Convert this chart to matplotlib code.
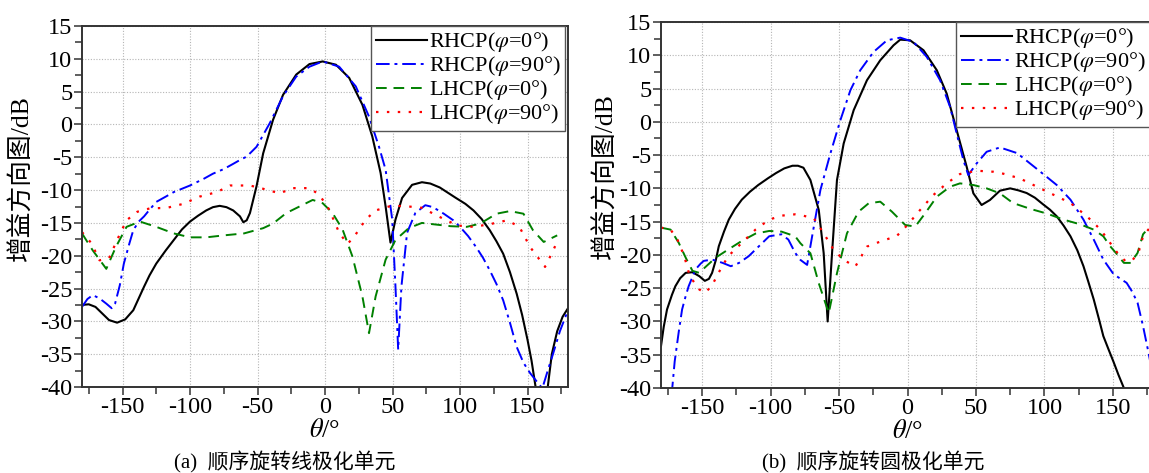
import numpy as np
import matplotlib
matplotlib.use("Agg")
import matplotlib.pyplot as plt
from matplotlib.ticker import MultipleLocator

"fonts"
plt.rcParams['font.family'] = ['Liberation Serif', 'Noto Sans CJK SC']
plt.rcParams['mathtext.fontset'] = 'stix'
plt.rcParams['axes.unicode_minus'] = False

"(a) sequential rotation, linear polarized element"
a_rhcp0_x = [-180, -175, -170, -165, -160, -154, -148, -142, -138, -134, -130, -125, -118, -112,
             -106, -100, -94, -88, -83, -78, -73, -68, -63, -60.5, -58, -55.6, -50.7, -45.8,
             -38.5, -31.1, -21.3, -11.5, -1.7, 8.1, 17.9, 27.7, 35, 41.2, 44.9, 48.5, 52.2,
             57.1, 64.5, 71.8, 78, 85, 91, 97, 104, 110, 116, 122, 127, 132, 137, 142,
             146, 150, 153, 156, 160, 165, 168, 172, 176, 180]
a_rhcp0_y = [-27.5, -27.4, -27.8, -28.8, -29.8, -30.2, -29.7, -28.3, -26.5, -24.7, -23.0, -21.2, -19.2, -17.6,
             -16.0, -14.8, -13.9, -13.1, -12.6, -12.4, -12.6, -13.1, -14.0, -14.9, -14.6, -13.5, -9.4, -4.4,
             0.7, 4.5, 7.6, 9.2, 9.6, 9.1, 7.1, 3.0, -1.8, -7.4, -12.5, -18.0, -14.5,
             -11.2, -9.2, -8.8, -9.0, -9.6, -10.4, -11.2, -12.1, -13.1, -14.4, -16.1, -17.8, -19.7, -22.5, -25.8,
             -29.0, -32.8, -36.0, -40.0, -45.0, -40.0, -35.0, -31.5, -29.3, -28.0]

a_rhcp90_x = [-180, -176, -172, -167, -162, -158, -155.5, -152, -149, -145, -142, -138, -134, -130,
              -125, -118, -112, -100, -90, -83, -75, -68, -62, -58, -50.7, -40.9, -31.1, -21.3,
              -11.5, -1.7, 10.5, 22.8, 32.6, 40, 44.9, 49.8, 52.2, 54.2, 56.6, 60.8, 66.9, 74.3,
              80, 88, 95, 100, 106, 112, 117, 122, 127, 132, 137, 142, 147, 152, 157, 161,
              165, 169, 174, 180]
a_rhcp90_y = [-27.8, -26.6, -26.0, -26.5, -27.3, -28.0, -27.3, -24.5, -21.2, -18.2, -16.1, -14.8, -14.0, -13.0,
              -11.8, -11.0, -10.3, -9.3, -8.3, -7.5, -6.8, -6.0, -5.3, -4.9, -3.4, 0.2, 4.3, 7.3,
              8.8, 9.6, 8.8, 5.8, 1.2, -3.4, -6.9, -14.5, -24.7, -34.3, -24.7, -16.5, -13.5, -12.3,
              -12.6, -13.6, -14.6, -15.6, -17.0, -18.7, -20.3, -22.2, -24.3, -26.8, -30.2, -33.9, -36.3, -37.9, -39.2, -40.2,
              -37.5, -34.9, -31.5, -28.3]

a_lhcp0_x = [-180, -172, -162, -155, -147, -137, -125, -112, -100, -88, -75, -60, -45.8,
             -38.5, -28.7, -9.1, -1.7, 5.6, 13, 20.3, 27.7, 32.6, 37.5, 44.9, 52.2, 62, 71.8,
             80, 93, 105, 115, 127, 137, 147, 154, 162, 172]
a_lhcp0_y = [-16.6, -19.2, -22.0, -18.7, -15.6, -14.8, -15.6, -16.6, -17.2, -17.2, -16.9, -16.6, -15.8,
             -15.1, -13.5, -11.5, -12.0, -13.5, -16.0, -20.1, -26.2, -31.8, -26.2, -20.6, -17.6, -15.8, -15.0,
             -15.2, -15.5, -15.6, -15.1, -13.6, -13.2, -13.6, -16.1, -17.9, -16.9]

a_lhcp90_x = [-180, -173, -167, -160, -154, -147, -139, -130, -117, -105, -93, -80, -70.3,
              -55.6, -45.8, -33.6, -23.8, -11.5, -4.2, 3.2, 10.5, 16.7, 21.6, 30.1, 37.5, 47.3, 57.1, 71.8,
              85, 98, 110, 122, 135, 144, 152, 163, 169, 173]
a_lhcp90_y = [-16.4, -18.1, -20.7, -20.4, -17.6, -14.6, -13.3, -12.8, -12.7, -12.1, -11.0, -10.3, -9.3,
              -9.3, -9.8, -10.5, -9.7, -9.7, -10.7, -13.0, -16.5, -18.2, -17.1, -14.5, -13.1, -12.5, -12.4, -12.7,
              -14.1, -15.4, -15.6, -15.2, -14.6, -15.6, -18.7, -21.7, -19.2, -17.4]

"(b) sequential rotation, circular polarized element"
b_rhcp0_x = [-180, -178, -175.6, -172, -169.5, -166, -162, -157, -152, -148, -145, -142.7, -140, -137.8,
             -134, -130.5, -126, -121, -115, -109, -102, -96, -90, -84, -80, -76, -70.9, -64.8,
             -61.2, -58.3, -55.1, -51.5, -46.6, -39.3, -29.6, -19.9, -10.2, -5.3, 1.9, 11.7, 21.4,
             28.6, 35.9, 43.2, 48.1, 54.1, 60.2, 67.5, 75, 81, 87, 93, 99, 104, 109, 114, 119,
             124, 128.5, 132, 136, 140, 143, 147, 150.5, 154, 158, 162]
b_rhcp0_y = [-33.7, -30.8, -28.2, -26.0, -24.7, -23.5, -22.7, -22.6, -23.2, -23.9, -23.6, -22.7, -20.8, -18.7,
             -16.5, -14.7, -13.1, -11.7, -10.5, -9.5, -8.5, -7.7, -7.0, -6.6, -6.6, -6.9, -8.75, -13.25,
             -19.75, -30.0, -19.75, -8.75, -3.25, 1.75, 6.25, 9.25, 11.5, 12.35, 12.25, 10.75, 7.75,
             4.25, -1.25, -6.75, -10.75, -12.5, -11.75, -10.35, -10.0, -10.3, -10.7, -11.4, -12.4, -13.2, -14.2, -15.6, -17.2,
             -19.3, -21.7, -24.0, -26.7, -29.8, -32.2, -34.3, -36.1, -38.0, -40.0, -44.0]

b_rhcp90_x = [-175, -172, -170, -167, -164.6, -162, -159.8, -157, -154.9, -151, -148.8, -142.7, -138, -135,
              -129, -123, -116, -108.5, -101, -92, -87, -82, -78.2, -73.3, -68.4, -63.6, -56.3, -49,
              -41.7, -34.5, -24.8, -15, -5.3, 4.4, 14.1, 23.8, 31.1, 35.9, 40.8, 44.4, 50.5, 57.8,
              67.5, 80, 94, 109, 119, 128.5, 136, 143, 150.5, 160, 164, 168, 172, 176, 180]
b_rhcp90_y = [-45.0, -40.5, -36.0, -31.5, -28.2, -26.2, -24.7, -23.3, -22.2, -21.3, -20.9, -20.7, -21.0, -21.2,
              -21.7, -21.2, -20.2, -18.7, -17.2, -16.9, -17.7, -19.7, -20.75, -21.5, -15.75, -10.25, -4.75, 0.25,
              4.75, 7.75, 10.5, 12.25, 12.65, 12.0, 9.75, 6.25, 2.25, -1.75, -5.75, -8.0, -6.25, -4.5,
              -3.85, -4.7, -7.0, -9.5, -11.7, -14.7, -17.7, -20.7, -22.9, -24.2, -25.5, -27.2, -30.7, -34.7, -39.0]

b_lhcp0_x = [-180, -173, -167, -162, -157, -152, -148, -140, -131, -121, -111, -101, -92,
             -82, -78.2, -70.9, -64.8, -57.5, -51.5, -44.2, -35.7, -28.4, -19.9, -11.4, -1.7, 5.6,
             12.9, 21.4, 31.1, 38.3, 48.1, 57.8, 67.5, 77, 90, 102, 114, 126, 136, 143, 148, 153,
             158, 163, 168, 172, 177, 180]
b_lhcp0_y = [-15.9, -16.2, -18.2, -20.4, -22.4, -22.7, -21.9, -20.4, -19.2, -17.9, -16.8, -16.4, -16.5,
             -17.2, -18.25, -19.75, -24.25, -28.75, -22.75, -16.75, -13.5, -12.25, -12.0, -13.5, -15.5, -15.75,
             -13.75, -11.25, -9.75, -9.25, -9.5, -10.0, -10.75, -12.2, -13.1, -13.8, -14.7, -15.4, -16.2, -17.2, -18.7, -19.9,
             -21.2, -21.2, -19.7, -16.9, -15.7, -15.3]

b_lhcp90_x = [-180, -173, -168, -163, -159, -152, -148, -143, -138, -131, -121, -111, -101,
              -92, -82, -78.2, -68.4, -61.2, -53.9, -46.6, -38.1, -29.6, -19.9, -7.8, 0, 9.2,
              18.9, 28.6, 38.3, 50.5, 62.6, 70, 82, 94, 107, 119, 131, 141, 148, 154,
              159, 164, 169, 172, 177, 180]
b_lhcp90_y = [-15.9, -16.2, -17.7, -20.2, -23.2, -25.2, -25.7, -24.7, -22.7, -20.2, -18.2, -16.2, -14.7,
              -14.1, -13.9, -14.0, -14.5, -16.75, -19.25, -20.75, -21.75, -18.75, -18.0, -17.15, -15.5, -13.25,
              -11.0, -9.25, -7.85, -7.35, -7.5, -7.8, -8.5, -9.7, -11.0, -12.2, -14.2, -16.2, -18.2, -19.9,
              -20.9, -20.9, -19.4, -17.2, -15.9, -15.5]

labels = [r'RHCP($\varphi$=0°)', r'RHCP($\varphi$=90°)', r'LHCP($\varphi$=0°)', r'LHCP($\varphi$=90°)']
captions = ['(a)  顺序旋转线极化单元', '(b)  顺序旋转圆极化单元']

W, H = 1149, 473
fig = plt.figure(figsize=(W / 100, H / 100), dpi=100)

"axes rectangles in pixels: left, top, right, bottom"
boxes = [(82, 26, 568, 387), (661, 22, 1154, 388)]
legend_anchor = [(0.994, 1.0), (0.992, 1.0)]
ylabel_xy = [(-0.099, 0.58), (-0.087, 0.58)]
cap_x = [285, 873]

data = [
    [(a_rhcp0_x, a_rhcp0_y), (a_rhcp90_x, a_rhcp90_y), (a_lhcp0_x, a_lhcp0_y), (a_lhcp90_x, a_lhcp90_y)],
    [(b_rhcp0_x, b_rhcp0_y), (b_rhcp90_x, b_rhcp90_y), (b_lhcp0_x, b_lhcp0_y), (b_lhcp90_x, b_lhcp90_y)],
]

for i in range(2):
    l, t, r, b = boxes[i]
    ax = fig.add_axes([l / W, 1 - b / H, (r - l) / W, (b - t) / H])
    s = data[i]
    ax.plot(s[0][0], s[0][1], color='black', lw=1.5, label=labels[0])
    ax.plot(s[1][0], s[1][1], color='#0000ff', lw=1.4, dashes=(7, 2.5, 1.5, 2.5), label=labels[1])
    ax.plot(s[2][0], s[2][1], color='#008000', lw=1.4, dashes=(5.5, 3.5), label=labels[2])
    ax.plot(s[3][0], s[3][1], color='#ff0000', lw=1.6, dashes=(1.1, 3.8), label=labels[3])

    ax.set_xlim(-180, 180)
    ax.set_ylim(-40, 15)
    ax.xaxis.set_major_locator(MultipleLocator(50))
    ax.xaxis.set_minor_locator(MultipleLocator(25))
    ax.yaxis.set_major_locator(MultipleLocator(5))
    ax.yaxis.set_minor_locator(MultipleLocator(2.5))
    ax.grid(True, which='major', linestyle=(0, (1, 1.5)), color='#b5b5b5', lw=0.8)
    ax.tick_params(which='both', direction='out', labelsize=17.5, pad=1, width=1.1, color='#333333')
    ax.tick_params(which='major', length=6)
    ax.tick_params(which='minor', length=5)
    for sp in ax.spines.values():
        sp.set_color('#333333')
        sp.set_linewidth(1.4)

    ax.set_xlabel(r'$\theta$/°', fontsize=19, labelpad=1)
    ax.set_ylabel('增益方向图/dB', fontsize=18.5)
    ax.yaxis.set_label_coords(*ylabel_xy[i])

    leg = ax.legend(loc='upper right', bbox_to_anchor=legend_anchor[i], fontsize=16,
                    frameon=True, fancybox=False, framealpha=1, edgecolor='#555555',
                    handlelength=2.3, handletextpad=0.1, labelspacing=0.0,
                    borderpad=0.2, borderaxespad=0.0)
    leg.get_frame().set_linewidth(1.0)

    fig.text(cap_x[i] / W, 1 - 462 / H, captions[i], ha='center', va='center', fontsize=15)

fig.savefig("out.png", dpi=100)
